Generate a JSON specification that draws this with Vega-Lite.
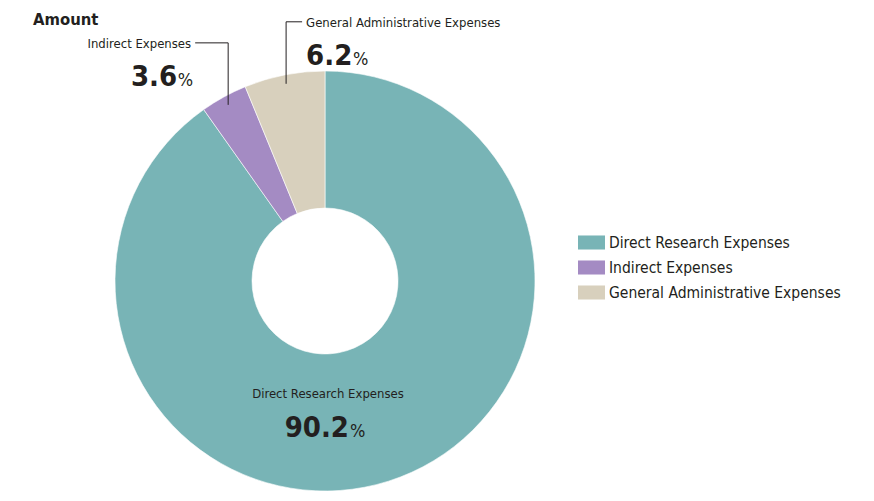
{
  "$schema": "https://vega.github.io/schema/vega-lite/v6.json",
  "autosize": "none",
  "width": 650,
  "height": 440,
  "padding": {"left": 0, "top": 61, "right": 224, "bottom": 0},
  "background": "white",
  "config": {
    "font": "DejaVu Sans Condensed, Liberation Sans Narrow, sans-serif",
    "view": {"stroke": null},
    "text": {"color": "#231f20", "font": "DejaVu Sans Condensed, Liberation Sans Narrow, sans-serif"}
  },
  "title": {
    "text": "Amount",
    "anchor": "start",
    "frame": "group",
    "dx": 33,
    "offset": -12,
    "fontSize": 16.5,
    "fontWeight": "bold",
    "color": "#231f20",
    "font": "DejaVu Sans Condensed, Liberation Sans Narrow, sans-serif"
  },
  "data": {
    "values": [
      {"category": "Direct Research Expenses", "amount": 90.2},
      {"category": "Indirect Expenses", "amount": 3.6},
      {"category": "General Administrative Expenses", "amount": 6.2}
    ]
  },
  "transform": [
    {"window": [{"op": "row_number", "as": "idx"}]},
    {"window": [{"op": "sum", "field": "amount", "as": "cum"}], "sort": [{"field": "idx"}], "frame": [null, 0]},
    {"joinaggregate": [{"op": "sum", "field": "amount", "as": "total"}]},
    {"calculate": "2*PI*(datum.cum - datum.amount/2)/datum.total", "as": "mid"},
    {"calculate": "width/2 + 201*sin(datum.mid)", "as": "ax"},
    {"calculate": "height/2 - 201*cos(datum.mid)", "as": "ay"},
    {"calculate": "datum.ay - 62", "as": "ty"},
    {"calculate": "datum.category === 'Indirect Expenses' ? datum.ax - 33 : datum.ax + 16", "as": "hx"},
    {"calculate": "width/2", "as": "cx"},
    {"calculate": "height/2", "as": "cy"}
  ],
  "layer": [
    {
      "mark": {"type": "arc", "innerRadius": 73, "outerRadius": 210, "stroke": "white", "strokeWidth": 0.6},
      "encoding": {
        "theta": {"field": "amount", "type": "quantitative", "stack": true},
        "order": {"field": "idx", "type": "quantitative"},
        "color": {
          "field": "category",
          "type": "nominal",
          "scale": {
            "domain": ["Direct Research Expenses", "Indirect Expenses", "General Administrative Expenses"],
            "range": ["#78b4b6", "#a48bc3", "#d8d0bd"]
          },
          "legend": {
            "title": null,
            "orient": "none",
            "legendX": 578,
            "legendY": 168,
            "symbolType": "M-1,-0.52H1V0.52H-1Z",
            "symbolSize": 729,
            "symbolStrokeWidth": 0,
            "symbolOpacity": 1,
            "rowPadding": 3,
            "labelFontSize": 15.5,
            "labelColor": "#231f20",
            "labelOffset": 4,
            "labelLimit": 400
          }
        }
      }
    },
    {
      "transform": [{"filter": "datum.category !== 'Direct Research Expenses'"}],
      "mark": {"type": "rule", "color": "#231f20", "strokeWidth": 1},
      "encoding": {
        "x": {"field": "ax", "type": "quantitative", "scale": null},
        "y": {"field": "ay", "type": "quantitative", "scale": null},
        "y2": {"field": "ty"}
      }
    },
    {
      "transform": [{"filter": "datum.category !== 'Direct Research Expenses'"}],
      "mark": {"type": "rule", "color": "#231f20", "strokeWidth": 1},
      "encoding": {
        "x": {"field": "ax", "type": "quantitative", "scale": null},
        "x2": {"field": "hx"},
        "y": {"field": "ty", "type": "quantitative", "scale": null}
      }
    },
    {
      "transform": [{"filter": "datum.category === 'Indirect Expenses'"}],
      "mark": {"type": "text", "align": "right", "baseline": "middle", "dx": -4, "dy": 1, "fontSize": 13},
      "encoding": {
        "x": {"field": "hx", "type": "quantitative", "scale": null},
        "y": {"field": "ty", "type": "quantitative", "scale": null},
        "text": {"field": "category"}
      }
    },
    {
      "transform": [{"filter": "datum.category === 'Indirect Expenses'"}],
      "mark": {"type": "text", "align": "right", "baseline": "alphabetic", "dx": -18, "dy": 43, "fontSize": 29, "fontWeight": "bold"},
      "encoding": {
        "x": {"field": "hx", "type": "quantitative", "scale": null},
        "y": {"field": "ty", "type": "quantitative", "scale": null},
        "text": {"field": "amount", "format": ".1f"}
      }
    },
    {
      "transform": [{"filter": "datum.category === 'Indirect Expenses'"}],
      "mark": {"type": "text", "align": "right", "baseline": "alphabetic", "dx": -2, "dy": 43, "fontSize": 18},
      "encoding": {
        "x": {"field": "hx", "type": "quantitative", "scale": null},
        "y": {"field": "ty", "type": "quantitative", "scale": null},
        "text": {"value": "%"}
      }
    },
    {
      "transform": [{"filter": "datum.category === 'General Administrative Expenses'"}],
      "mark": {"type": "text", "align": "left", "baseline": "middle", "dx": 4, "dy": 1, "fontSize": 13},
      "encoding": {
        "x": {"field": "hx", "type": "quantitative", "scale": null},
        "y": {"field": "ty", "type": "quantitative", "scale": null},
        "text": {"field": "category"}
      }
    },
    {
      "transform": [{"filter": "datum.category === 'General Administrative Expenses'"}],
      "mark": {"type": "text", "align": "left", "baseline": "alphabetic", "dx": 4, "dy": 43, "fontSize": 29, "fontWeight": "bold"},
      "encoding": {
        "x": {"field": "hx", "type": "quantitative", "scale": null},
        "y": {"field": "ty", "type": "quantitative", "scale": null},
        "text": {"field": "amount", "format": ".1f"}
      }
    },
    {
      "transform": [{"filter": "datum.category === 'General Administrative Expenses'"}],
      "mark": {"type": "text", "align": "left", "baseline": "alphabetic", "dx": 51, "dy": 43, "fontSize": 18},
      "encoding": {
        "x": {"field": "hx", "type": "quantitative", "scale": null},
        "y": {"field": "ty", "type": "quantitative", "scale": null},
        "text": {"value": "%"}
      }
    },
    {
      "transform": [{"filter": "datum.category === 'Direct Research Expenses'"}],
      "mark": {"type": "text", "align": "center", "baseline": "middle", "dx": 3, "dy": 113, "fontSize": 13},
      "encoding": {
        "x": {"field": "cx", "type": "quantitative", "scale": null},
        "y": {"field": "cy", "type": "quantitative", "scale": null},
        "text": {"field": "category"}
      }
    },
    {
      "transform": [{"filter": "datum.category === 'Direct Research Expenses'"}],
      "mark": {"type": "text", "align": "right", "baseline": "alphabetic", "dx": 24, "dy": 156, "fontSize": 29, "fontWeight": "bold"},
      "encoding": {
        "x": {"field": "cx", "type": "quantitative", "scale": null},
        "y": {"field": "cy", "type": "quantitative", "scale": null},
        "text": {"field": "amount", "format": ".1f"}
      }
    },
    {
      "transform": [{"filter": "datum.category === 'Direct Research Expenses'"}],
      "mark": {"type": "text", "align": "left", "baseline": "alphabetic", "dx": 25, "dy": 156, "fontSize": 18},
      "encoding": {
        "x": {"field": "cx", "type": "quantitative", "scale": null},
        "y": {"field": "cy", "type": "quantitative", "scale": null},
        "text": {"value": "%"}
      }
    }
  ]
}
